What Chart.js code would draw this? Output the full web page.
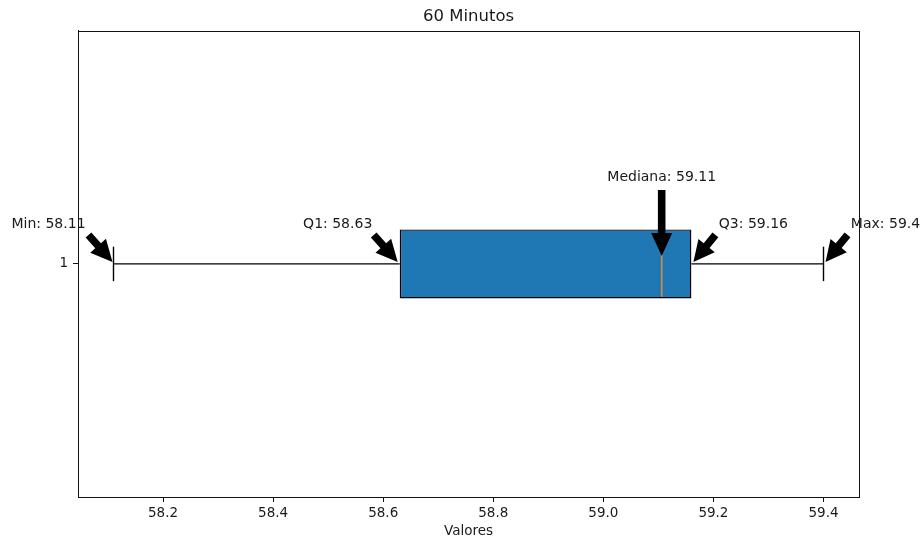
<!DOCTYPE html>
<html>
<head>
<meta charset="utf-8">
<script src="https://cdn.jsdelivr.net/npm/chart.js@4.4.1/dist/chart.umd.min.js"></script>
<style>
  html, body { margin: 0; padding: 0; background: #fff; }
</style>
</head>
<body>
<canvas id="chart-box" width="921" height="542"></canvas>
<script>
const categories = ['1'];
const minValue = 58.11;
const q1Value = 58.63;
const medianValue = 59.106;
const q3Value = 59.16;
const maxValue = 59.40;
const tickValues = [58.2, 58.4, 58.6, 58.8, 59.0, 59.2, 59.4];
const annotationLabels = ['Min: 58.11', 'Q1: 58.63', 'Mediana: 59.11', 'Q3: 59.16', 'Max: 59.4'];
const annotationValues = [minValue, q1Value, medianValue, q3Value, maxValue];

const FONT = '"DejaVu Sans", sans-serif';
const TEXT_COLOR = '#1a1a1a';

// pixel offsets from the point each arrow aims at
const annotationStyle = [
    { text: [-65, -40], tail: [-25, -29], tip: [-1, -2] },
    { text: [-62, -40], tail: [-26, -29], tip: [-2, -2] },
    { text: [0, -87], tail: [0, -74], tip: [0, -8] },
    { text: [62, -40], tail: [24, -29], tip: [2, -2] },
    { text: [62, -40], tail: [24, -29], tip: [2, -2] },
];

const span = maxValue - minValue;
const xMin = minValue - 0.05 * span;
const xMax = maxValue + 0.05 * span;

function drawArrow(ctx, x0, y0, x1, y1) 
{
    const dx = x1 - x0, dy = y1 - y0;
    const len = Math.hypot(dx, dy);
    const ux = dx / len, uy = dy / len;
    const nx = -uy, ny = ux;
    const hl = Math.min(23, len * 0.6);
    const sw = 3.8, hw = 10.5;
    const bx = x1 - ux * hl, by = y1 - uy * hl;

    ctx.beginPath();
    ctx.moveTo(x0 + nx * sw, y0 + ny * sw);
    ctx.lineTo(bx + nx * sw, by + ny * sw);
    ctx.lineTo(bx + nx * hw, by + ny * hw);
    ctx.lineTo(x1, y1);
    ctx.lineTo(bx - nx * hw, by - ny * hw);
    ctx.lineTo(bx - nx * sw, by - ny * sw);
    ctx.lineTo(x0 - nx * sw, y0 - ny * sw);
    ctx.closePath();
    ctx.fill();
}

const boxExtras = {
    id: 'boxExtras',
    afterDatasetsDraw(chart) {
        const { ctx, chartArea, scales: { x, y } } = chart;
        const cy = y.getPixelForValue(0);
        const bar = chart.getDatasetMeta(0).data[0];
        const half = bar.height / 2;

        ctx.save();

        // median
        const mx = x.getPixelForValue(medianValue);
        ctx.strokeStyle = '#d58b45';
        ctx.lineWidth = 1.6;
        ctx.beginPath();
        ctx.moveTo(mx, cy - half + 1.5);
        ctx.lineTo(mx, cy + half - 1.5);
        ctx.stroke();

        // whisker caps
        ctx.strokeStyle = '#000';
        ctx.lineWidth = 1.4;
        [minValue, maxValue].forEach(v => {
            const px = x.getPixelForValue(v);
            ctx.beginPath();
            ctx.moveTo(px, cy - half / 2);
            ctx.lineTo(px, cy + half / 2);
            ctx.stroke();
        });

        // top / right frame
        ctx.lineWidth = 1;
        ctx.strokeStyle = '#111';
        ctx.strokeRect(Math.round(chartArea.left) + 0.5, Math.round(chartArea.top) + 0.5,
            Math.round(chartArea.width), Math.round(chartArea.height));

        // annotations
        ctx.fillStyle = '#000';
        annotationValues.forEach((v, i) => {
            const px = x.getPixelForValue(v);
            const s = annotationStyle[i];
            drawArrow(ctx, px + s.tail[0], cy + s.tail[1], px + s.tip[0], cy + s.tip[1]);
        });

        ctx.fillStyle = TEXT_COLOR;
        ctx.font = '14px ' + FONT;
        ctx.textAlign = 'center';
        ctx.textBaseline = 'middle';
        annotationValues.forEach((v, i) => {
            const px = x.getPixelForValue(v);
            const s = annotationStyle[i];
            ctx.fillText(annotationLabels[i], px + s.text[0], cy + s.text[1]);
        });

        ctx.restore();
    }
};

const data = {
    labels: categories,
    datasets: [
        {
            type: 'bar',
            data: [[q1Value, q3Value]],
            backgroundColor: '#1f77b4',
            borderColor: '#000',
            borderWidth: 1.4,
            borderSkipped: false,
            barPercentage: 0.148,
            categoryPercentage: 1,
            order: 1,
        },
        {
            type: 'line',
            data: [{ x: minValue, y: categories[0] }, { x: q1Value, y: categories[0] }],
            borderColor: '#000',
            borderWidth: 1.4,
            pointRadius: 0,
            order: 2,
        },
        {
            type: 'line',
            data: [{ x: q3Value, y: categories[0] }, { x: maxValue, y: categories[0] }],
            borderColor: '#000',
            borderWidth: 1.4,
            pointRadius: 0,
            order: 2,
        },
    ],
};

const config = {
    type: 'bar',
    data: data,
    options: {
        indexAxis: 'y',
        responsive: false,
        animation: false,
        layout: { padding: { left: 0, right: 62, top: 0, bottom: 0 } },
        plugins: {
            legend: { display: false },
            tooltip: { enabled: false },
            title: {
                display: true,
                text: '60 Minutos',
                fullSize: false,
                color: TEXT_COLOR,
                font: { family: FONT, size: 16.5, weight: 'normal' },
                padding: { top: 7, bottom: 4 },
            },
        },
        scales: {
            x: {
                type: 'linear',
                min: xMin,
                max: xMax,
                afterBuildTicks: scale => {
                    scale.ticks = tickValues.map(v => ({ value: v }));
                },
                afterFit: scale => { scale.height = 45; },
                ticks: {
                    color: TEXT_COLOR,
                    font: { family: FONT, size: 13.5 },
                    padding: 3,
                    callback: v => Number(v).toFixed(1),
                },
                grid: { drawOnChartArea: false, drawTicks: true, tickLength: 5, color: '#111' },
                border: { color: '#111', width: 1 },
                title: {
                    display: true,
                    text: 'Valores',
                    color: TEXT_COLOR,
                    font: { family: FONT, size: 13.5 },
                    padding: { top: 0, bottom: 2 },
                },
            },
            y: {
                type: 'category',
                afterFit: scale => { scale.width = 78; },
                ticks: {
                    color: TEXT_COLOR,
                    font: { family: FONT, size: 13.5 },
                    padding: 5,
                },
                grid: { drawOnChartArea: false, drawTicks: true, tickLength: 5, color: '#111', offset: false },
                border: { color: '#111', width: 1 },
            },
        },
    },
    plugins: [boxExtras],
};

new Chart(document.getElementById('chart-box'), config);
</script>
</body>
</html>
